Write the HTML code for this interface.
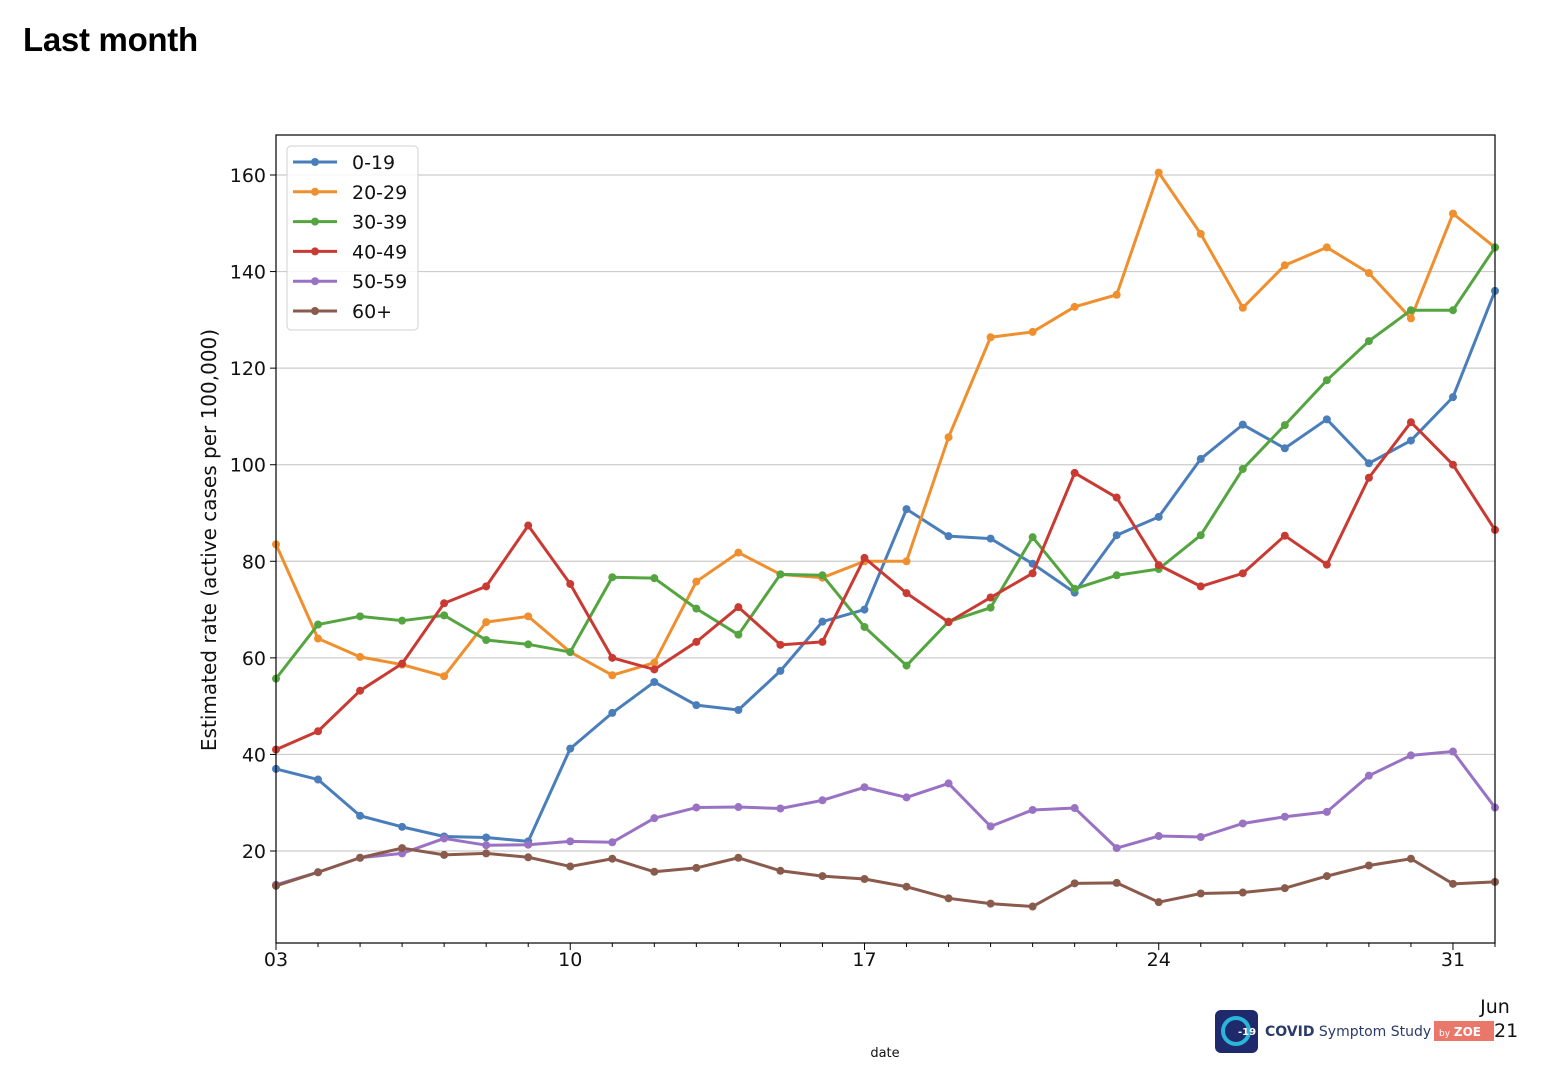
<!DOCTYPE html>
<html><head><meta charset="utf-8"><style>
body{margin:0;background:#fff;width:1548px;height:1086px;overflow:hidden;font-family:"Liberation Sans",sans-serif}
h1{position:absolute;left:23px;top:21px;margin:0;font-size:33px;font-weight:bold;letter-spacing:-0.3px}
svg text{font-family:"DejaVu Sans",sans-serif}
</style></head><body>
<h1>Last month</h1>
<svg id="c" width="1548" height="1086" style="position:absolute;left:0;top:0"></svg>
<script>
const days=["03","","","","","","","10","","","","","","","17","","","","","","","24","","","","","","","31",""];
const yTicks=[20,40,60,80,100,120,140,160];
const names=["0-19","20-29","30-39","40-49","50-59","60+"];
const colors=["#4a7ebb","#ef8f2e","#54a540","#c93a33","#9a72c4","#8a5b4d"];
const s0=[37,34.8,27.3,25,23,22.8,22,41.2,48.6,55,50.2,49.2,57.3,67.5,70,90.8,85.2,84.7,79.5,73.5,85.4,89.2,101.2,108.3,103.4,109.4,100.3,105,114,136];
const s1=[83.5,64,60.2,58.6,56.2,67.4,68.6,61.2,56.4,59,75.8,81.8,77.3,76.6,80,80,105.7,126.4,127.5,132.7,135.2,160.5,147.8,132.5,141.3,145,139.7,130.3,152,145];
const s2=[55.7,66.9,68.6,67.7,68.8,63.7,62.8,61.2,76.7,76.5,70.2,64.8,77.3,77.1,66.4,58.4,67.5,70.4,85,74.3,77.1,78.4,85.4,99.1,108.2,117.5,125.6,132,132,145];
const s3=[41,44.8,53.2,58.8,71.3,74.8,87.4,75.3,60,57.6,63.3,70.5,62.7,63.3,80.7,73.4,67.4,72.5,77.5,98.3,93.2,79.2,74.8,77.5,85.3,79.3,97.3,108.8,100,86.5];
const s4=[13,15.6,18.6,19.5,22.6,21.2,21.3,22,21.8,26.8,29,29.1,28.8,30.5,33.2,31.1,34,25.1,28.5,28.9,20.6,23.1,22.9,25.7,27.1,28.1,35.6,39.8,40.6,29];
const s5=[12.8,15.6,18.6,20.6,19.2,19.5,18.7,16.8,18.4,15.7,16.5,18.6,15.9,14.8,14.2,12.6,10.2,9.1,8.5,13.3,13.4,9.4,11.2,11.4,12.3,14.8,17,18.4,13.2,13.6];
const series=[s0,s1,s2,s3,s4,s5];
const L=276,R=1495,T=135,B=943;
const x=i=>L+i*(R-L)/(days.length-1);
const y=v=>851-(v-20)*(676/140);
const svg=document.getElementById('c');const NS="http://www.w3.org/2000/svg";
function mk(t,a,p){const e=document.createElementNS(NS,t);for(const k in a)e.setAttribute(k,a[k]);(p||svg).appendChild(e);return e;}
yTicks.forEach(v=>{
 const g=mk('line',{x1:L,x2:R,y1:y(v),y2:y(v),stroke:'#cccccc','stroke-width':1.2});
 
 mk('line',{x1:L-6,x2:L,y1:y(v),y2:y(v),stroke:'#000'});
 const t=mk('text',{x:L-10,y:y(v)+7,'text-anchor':'end','font-size':19,fill:'#111'});t.textContent=v;
 
});
days.forEach((d,i)=>{
 mk('line',{x1:x(i),x2:x(i),y1:B,y2:B+(d?7:4),stroke:'#000'});
 if(d){const t=mk('text',{x:x(i),y:B+23,'text-anchor':'middle','font-size':19,fill:'#111'});t.textContent=d;
 }
});
series.forEach((s,k)=>{
 const g=mk('g',{});
 
 mk('polyline',{points:s.map((v,i)=>x(i)+','+y(v)).join(' '),fill:'none',stroke:colors[k],'stroke-width':3,'stroke-linejoin':'round'},g);
 s.forEach((v,i)=>{const c=mk('circle',{cx:x(i),cy:y(v),r:4,fill:colors[k]},g);
  });
});
const fr=mk('rect',{x:L,y:T,width:R-L,height:B-T,fill:'none',stroke:'#000','stroke-width':1.2});

const lg=mk('g',{});
mk('rect',{x:287,y:146,width:131,height:184,rx:4,fill:'#fff','fill-opacity':0.85,stroke:'#d0d0d0'},lg);
names.forEach((n,k)=>{const yy=162+k*29.8;
 const e=mk('g',{},lg);
 mk('line',{x1:293,x2:337,y1:yy,y2:yy,stroke:colors[k],'stroke-width':3},e);
 mk('circle',{cx:315,cy:yy,r:4,fill:colors[k]},e);
 const t=mk('text',{x:352,y:yy+7,'font-size':19,fill:'#111'},e);t.textContent=n;});
const yl=mk('text',{x:0,y:0,transform:'translate(216,540) rotate(-90)','text-anchor':'middle','font-size':20,fill:'#111'});
yl.textContent='Estimated rate (active cases per 100,000)';
const xl=mk('text',{x:885,y:1057,'text-anchor':'middle','font-size':13,fill:'#111'});xl.textContent='date';

const j1=mk('text',{x:1495,y:1013,'text-anchor':'middle','font-size':19,fill:'#111'});j1.textContent='Jun';

const lo=mk('g',{});
mk('rect',{x:1215,y:1010,width:43,height:43,rx:6,fill:'#1e2a6b'},lo);
mk('circle',{cx:1236,cy:1031,r:13,fill:'none',stroke:'#29b6d8','stroke-width':4},lo);
let t=mk('text',{x:1238,y:1035,'font-size':10,fill:'#fff','font-weight':'bold'},lo);t.textContent='-19';
t=mk('text',{x:1265,y:1036,'font-size':14,fill:'#2a3a6b'},lo);t.innerHTML='<tspan font-weight="bold">COVID</tspan> Symptom Study';
mk('rect',{x:1434,y:1021,width:60,height:20,fill:'#e9786b'},lo);
t=mk('text',{x:1439,y:1036,'font-size':12,fill:'#fff'},lo);t.innerHTML='<tspan font-size="9">by</tspan> <tspan font-weight="bold">ZOE</tspan>';
const j2=mk('text',{x:1494,y:1037,'font-size':19,fill:'#111'});j2.textContent='21';

</script>
</body></html>
